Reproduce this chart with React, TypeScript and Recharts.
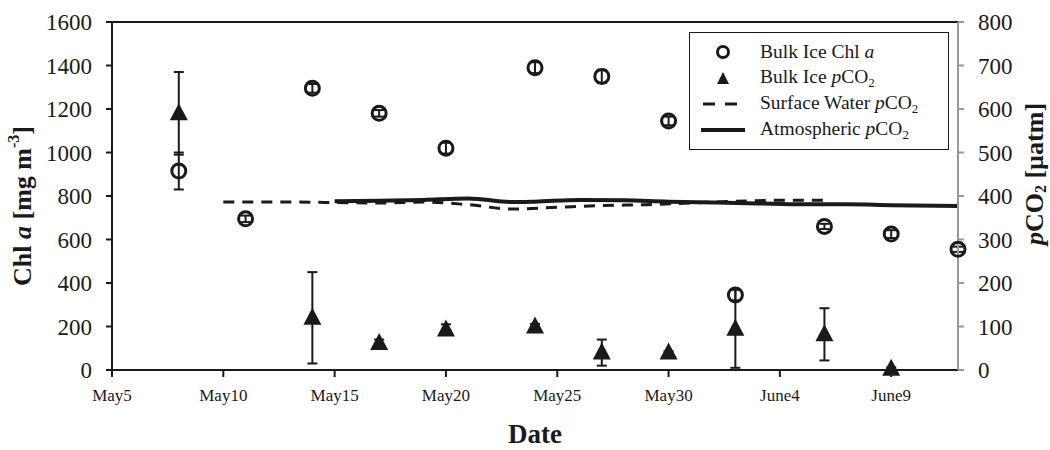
import {
  ComposedChart,
  ErrorBar,
  Legend,
  Line,
  ReferenceLine,
  Scatter,
  XAxis,
  YAxis,
} from 'recharts'

const FONT = '"Liberation Serif", "Times New Roman", serif'
const INK = '#1a1a1a'

// days counted from May 5
const TICK_DAYS = [0, 5, 10, 15, 20, 25, 30, 35]
const TICK_LABELS = ['May5', 'May10', 'May15', 'May20', 'May25', 'May30', 'June4', 'June9']

const CHL_DAYS = [3, 6, 9, 12, 15, 19, 22, 25, 28, 32, 35, 38]
const CHL = [915, 695, 1295, 1180, 1020, 1390, 1350, 1145, 345, 660, 625, 555]
const CHL_ERR = [85, 15, 20, 15, 25, 25, 30, 20, 25, 12, 18, 12]

const PCO2_DAYS = [3, 9, 12, 15, 19, 22, 25, 28, 32, 35]
const PCO2 = [590, 120, 62, 93, 100, 40, 40, 95, 82, 3]
const PCO2_ERR = [95, 105, 8, 12, 6, 30, 3, 90, 60, 3]

const SW_DAYS = [5, 8, 10, 12, 14, 16, 18, 20, 22, 24, 26, 28, 30, 32]
const SW = [386, 386, 385, 384, 386, 380, 370, 374, 378, 380, 384, 388, 390, 390]

const ATM_DAYS = [10, 12, 14, 16, 18, 19, 21, 23, 25, 27, 29, 31, 33, 35, 38]
const ATM = [388, 389, 391, 394, 386, 387, 391, 390, 387, 385, 383, 381, 381, 379, 377]

const chlData = CHL_DAYS.map((day, i) => ({ day, v: CHL[i], err: CHL_ERR[i] }))
const pco2Data = PCO2_DAYS.map((day, i) => ({ day, v: PCO2[i], err: PCO2_ERR[i] }))
const swData = SW_DAYS.map((day, i) => ({ day, v: SW[i] }))
const atmData = ATM_DAYS.map((day, i) => ({ day, v: ATM[i] }))

function OpenCircle(props: any) {
  const { cx, cy } = props
  return <circle cx={cx} cy={cy} r={7} fill="none" stroke={INK} strokeWidth={3} />
}

function Triangle(props: any) {
  const { cx, cy } = props
  return <path d={`M${cx},${cy - 10} L${cx + 9},${cy + 7} L${cx - 9},${cy + 7} Z`} fill={INK} />
}

function LeftTitle(props: any) {
  const { viewBox } = props
  const cx = 22
  const cy = viewBox.y + viewBox.height / 2 + 10
  return (
    <text
      x={cx}
      y={cy}
      transform={`rotate(-90 ${cx} ${cy})`}
      textAnchor="middle"
      dominantBaseline="central"
      fontFamily={FONT}
      fontWeight="bold"
      fontSize={26}
      fill={INK}
    >
      Chl <tspan fontStyle="italic">a</tspan> [mg m<tspan dy={-9} fontSize={16}>-3</tspan>
      <tspan dy={9}>]</tspan>
    </text>
  )
}

function RightTitle(props: any) {
  const { viewBox } = props
  const cx = 1034
  const cy = viewBox.y + viewBox.height / 2 - 22
  return (
    <text
      x={cx}
      y={cy}
      transform={`rotate(-90 ${cx} ${cy})`}
      textAnchor="middle"
      dominantBaseline="central"
      fontFamily={FONT}
      fontWeight="bold"
      fontSize={26}
      fill={INK}
    >
      <tspan fontStyle="italic">p</tspan>CO<tspan dy={6} fontSize={16}>2</tspan>
      <tspan dy={-6}> [µatm]</tspan>
    </text>
  )
}

function DateTitle(props: any) {
  const { viewBox } = props
  return (
    <text
      x={viewBox.x + viewBox.width / 2}
      y={434}
      textAnchor="middle"
      dominantBaseline="central"
      fontFamily={FONT}
      fontWeight="bold"
      fontSize={27}
      fill={INK}
    >
      Date
    </text>
  )
}

function LegendBox() {
  const row = { display: 'flex', alignItems: 'center', height: 26, whiteSpace: 'nowrap' as const }
  const key = { width: 46, display: 'flex', justifyContent: 'center', marginRight: 14, flex: 'none' }
  const sub = { fontSize: 13, verticalAlign: -4 }
  return (
    <div
      style={{
        border: `1.5px solid ${INK}`,
        background: '#fff',
        fontFamily: FONT,
        fontSize: 19.5,
        color: INK,
        padding: '6px 6px 6px 10px',
        boxSizing: 'border-box',
        width: 260,
        height: 118,
      }}
    >
      <div style={row}>
        <span style={key}>
          <svg width={16} height={16}>
            <circle cx={8} cy={8} r={5.5} fill="none" stroke={INK} strokeWidth={3} />
          </svg>
        </span>
        <span>
          Bulk Ice Chl <i>a</i>
        </span>
      </div>
      <div style={row}>
        <span style={key}>
          <svg width={16} height={16}>
            <path d="M8,2 L14,14 L2,14 Z" fill={INK} />
          </svg>
        </span>
        <span>
          Bulk Ice <i>p</i>CO<span style={sub}>2</span>
        </span>
      </div>
      <div style={row}>
        <span style={key}>
          <svg width={40} height={10}>
            <line x1={0} y1={5} x2={40} y2={5} stroke={INK} strokeWidth={3} strokeDasharray="12 10" />
          </svg>
        </span>
        <span>
          Surface Water <i>p</i>CO<span style={sub}>2</span>
        </span>
      </div>
      <div style={row}>
        <span style={key}>
          <svg width={44} height={10}>
            <line x1={0} y1={5} x2={44} y2={5} stroke={INK} strokeWidth={4} />
          </svg>
        </span>
        <span>
          Atmospheric <i>p</i>CO<span style={sub}>2</span>
        </span>
      </div>
    </div>
  )
}

export default function App() {
  return (
    <div style={{ position: 'absolute', left: 0, top: 0, width: 1050, height: 450, background: '#fff' }}>
      <ComposedChart width={1050} height={450} margin={{ top: 22, right: 0, bottom: 0, left: 0 }}>
        <XAxis
          type="number"
          dataKey="day"
          domain={[0, 38]}
          ticks={TICK_DAYS}
          tickFormatter={(v: number) => TICK_LABELS[TICK_DAYS.indexOf(v)] ?? ''}
          height={80}
          stroke={INK}
          strokeWidth={2}
          tickSize={7}
          tickMargin={12}
          tick={{ fontSize: 17, fontFamily: FONT, fill: INK }}
          label={<DateTitle />}
        />
        <YAxis
          yAxisId="left"
          type="number"
          domain={[0, 1600]}
          ticks={[0, 200, 400, 600, 800, 1000, 1200, 1400, 1600]}
          width={112}
          stroke={INK}
          strokeWidth={2}
          tickSize={6}
          tickMargin={14}
          tick={{ fontSize: 23, fontFamily: FONT, fill: INK }}
          label={<LeftTitle />}
        />
        <YAxis
          yAxisId="right"
          orientation="right"
          type="number"
          domain={[0, 800]}
          ticks={[0, 100, 200, 300, 400, 500, 600, 700, 800]}
          width={92}
          stroke="#999"
          strokeWidth={2}
          tickSize={6}
          tickMargin={14}
          tick={{ fontSize: 23, fontFamily: FONT, fill: INK }}
          label={<RightTitle />}
        />
        <ReferenceLine yAxisId="left" y={1600} stroke={INK} strokeWidth={2} />
        <Legend
          content={<LegendBox />}
          layout="horizontal"
          verticalAlign="middle"
          align="center"
          wrapperStyle={{ top: 32, left: 689, width: 260, height: 118 }}
        />
        <Line
          yAxisId="right"
          data={swData}
          dataKey="v"
          type="monotone"
          stroke={INK}
          strokeWidth={3}
          strokeDasharray="11 8"
          dot={false}
          isAnimationActive={false}
          legendType="none"
        />
        <Line
          yAxisId="right"
          data={atmData}
          dataKey="v"
          type="monotone"
          stroke={INK}
          strokeWidth={4}
          dot={false}
          isAnimationActive={false}
          legendType="none"
        />
        <Scatter
          yAxisId="left"
          data={chlData}
          dataKey="v"
          shape={<OpenCircle />}
          isAnimationActive={false}
        >
          <ErrorBar dataKey="err" direction="y" width={5} stroke={INK} strokeWidth={2} />
        </Scatter>
        <Scatter
          yAxisId="right"
          data={pco2Data}
          dataKey="v"
          shape={<Triangle />}
          isAnimationActive={false}
        >
          <ErrorBar dataKey="err" direction="y" width={5} stroke={INK} strokeWidth={2} />
        </Scatter>
      </ComposedChart>
    </div>
  )
}
